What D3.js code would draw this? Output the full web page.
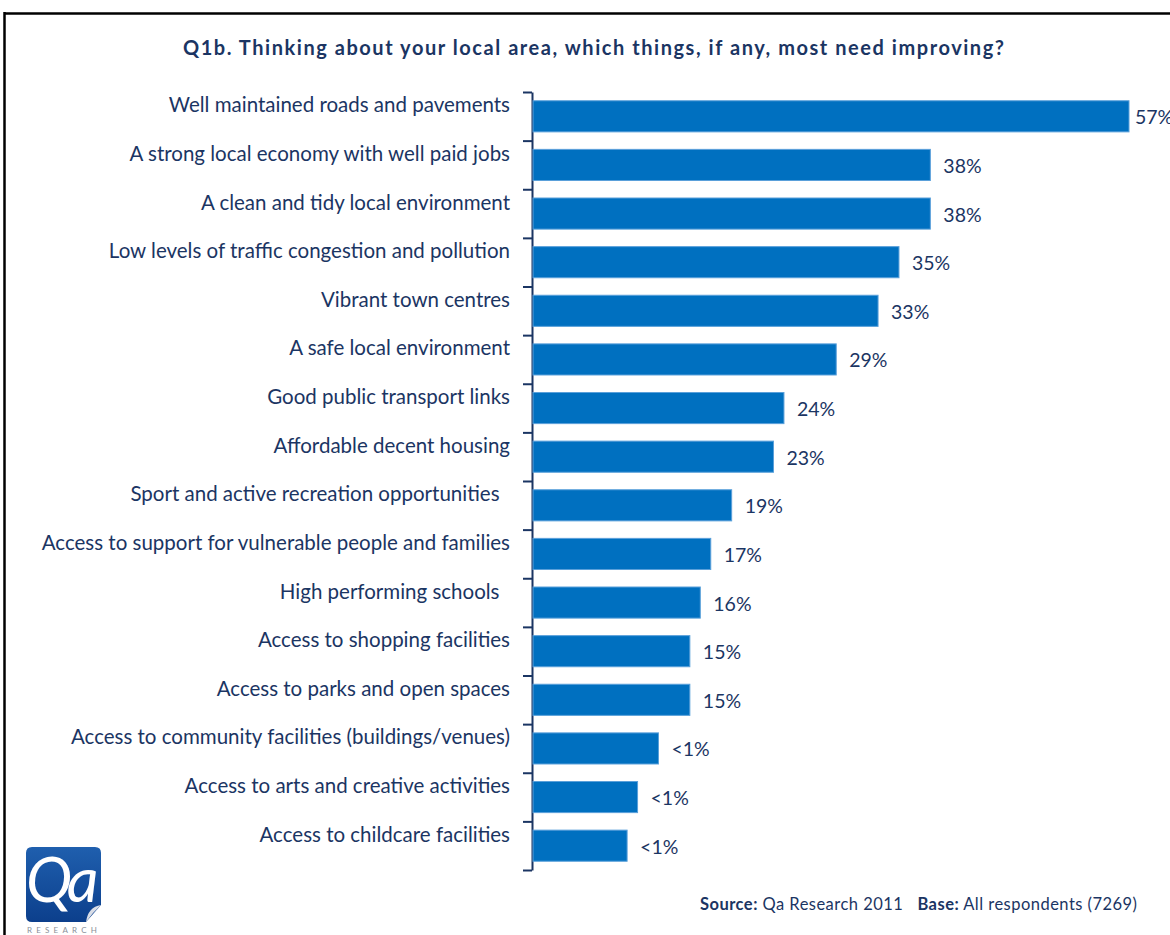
<!DOCTYPE html>
<html>
<head>
<meta charset="utf-8">
<script src="https://cdn.jsdelivr.net/npm/d3@7"></script>
<style>
  html, body { margin: 0; padding: 0; background: #fff; }
  svg { display: block; }
  text { font-family: Lato, "Open Sans", sans-serif; }
</style>
</head>
<body>
<svg id="chart" width="1170" height="935"></svg>
<script>
// Survey responses: which things most need improving in the local area
const categories = [
  "Well maintained roads and pavements",
  "A strong local economy with well paid jobs",
  "A clean and tidy local environment",
  "Low levels of traffic congestion and pollution",
  "Vibrant town centres",
  "A safe local environment",
  "Good public transport links",
  "Affordable decent housing",
  "Sport and active recreation opportunities  ",
  "Access to support for vulnerable people and families",
  "High performing schools  ",
  "Access to shopping facilities",
  "Access to parks and open spaces",
  "Access to community facilities (buildings/venues)",
  "Access to arts and creative activities",
  "Access to childcare facilities"
];
const values = [57, 38, 38, 35, 33, 29, 24, 23, 19, 17, 16, 15, 15, 12, 10, 9];
const valueLabels = ["57%", "38%", "38%", "35%", "33%", "29%", "24%", "23%", "19%", "17%", "16%", "15%", "15%", "<1%", "<1%", "<1%"];

const titleText = "Q1b. Thinking about your local area, which things, if any, most need improving?";
const sourceLabel = "Source:";
const sourceText = " Qa Research 2011   ";
const baseLabel = "Base:";
const baseText = " All respondents (7269)";

const navy = "#1b3563";
const barFill = "#0070c0";

const svg = d3.select("#chart");

// Frame around the figure
svg.append("line").attr("x1", 4).attr("x2", 1170).attr("y1", 13.5).attr("y2", 13.5)
  .attr("stroke", "#000").attr("stroke-width", 2.5);
svg.append("line").attr("x1", 4.5).attr("x2", 4.5).attr("y1", 12).attr("y2", 935)
  .attr("stroke", "#000").attr("stroke-width", 2.5);

// Title
svg.append("text")
  .attr("x", 593.5).attr("y", 55)
  .attr("text-anchor", "middle")
  .attr("fill", navy)
  .attr("font-weight", "bold")
  .attr("font-size", 20)
  .attr("textLength", 821)
  .attr("lengthAdjust", "spacing")
  .text(titleText);

// Scales
const x = d3.scaleLinear().domain([0, 57]).range([533, 1129]);
const y = d3.scaleBand().domain(categories).range([92, 870]).paddingInner(0.36).paddingOuter(0.18);
const tickIndex = d3.scaleLinear().domain([0, categories.length]).range([92, 870]);

// Category axis: vertical line with ticks at band boundaries
const axisG = svg.append("g").attr("transform", "translate(532,0)")
  .call(d3.axisLeft(tickIndex).tickValues(d3.range(categories.length + 1)).tickFormat("").tickSize(9).tickSizeOuter(0));
axisG.select(".domain").attr("stroke", navy).attr("stroke-width", 2);
axisG.selectAll(".tick line").attr("stroke", navy).attr("stroke-width", 2);

// Bars
svg.append("g").selectAll("rect")
  .data(categories)
  .join("rect")
  .attr("x", x(0))
  .attr("y", d => y(d))
  .attr("width", (d, i) => x(values[i]) - x(0))
  .attr("height", y.bandwidth())
  .attr("fill", barFill)
  .attr("stroke", "#5aa0da")
  .attr("stroke-width", 1);

// Category labels
svg.append("g").selectAll("text")
  .data(categories)
  .join("text")
  .attr("x", 510)
  .attr("y", d => y(d) + y.bandwidth() / 2 - 4)
  .attr("text-anchor", "end")
  .attr("fill", navy)
  .attr("font-size", 20.5)
  .style("white-space", "pre")
  .text(d => d);

// Value labels
svg.append("g").selectAll("text")
  .data(categories)
  .join("text")
  .attr("x", (d, i) => x(values[i]) + (i === 0 ? 6 : 13))
  .attr("y", d => y(d) + y.bandwidth() / 2 + 8)
  .attr("fill", navy)
  .attr("font-size", 19.5)
  .text((d, i) => valueLabels[i]);

// Source note
const src = svg.append("text")
  .attr("x", 1137).attr("y", 910)
  .attr("text-anchor", "end")
  .attr("fill", navy)
  .attr("font-size", 16.5)
  .attr("textLength", 437)
  .attr("lengthAdjust", "spacing")
  .style("white-space", "pre");
src.append("tspan").attr("font-weight", "bold").text(sourceLabel);
src.append("tspan").text(sourceText);
src.append("tspan").attr("font-weight", "bold").text(baseLabel);
src.append("tspan").text(baseText);

// Qa Research logo
const defs = svg.append("defs");
const grad = defs.append("linearGradient").attr("id", "logoGrad")
  .attr("x1", 0).attr("y1", 0).attr("x2", 0).attr("y2", 1);
grad.append("stop").attr("offset", "0%").attr("stop-color", "#1f5fae");
grad.append("stop").attr("offset", "100%").attr("stop-color", "#0c3f8c");

const logo = svg.append("g").attr("transform", "translate(26,847)");
logo.append("path")
  .attr("d", "M6,0 H69 Q75,0 75,6 V58 L60,75 H6 Q0,75 0,69 V6 Q0,0 6,0 Z")
  .attr("fill", "url(#logoGrad)");
logo.append("path")
  .attr("d", "M75,58 Q62,60 60,75 Q66,66 75,58 Z")
  .attr("fill", "#d9dde6");
logo.append("text")
  .attr("x", 0).attr("y", 55)
  .attr("fill", "#fff")
  .attr("font-family", "'Liberation Serif', 'DejaVu Serif', serif")
  .attr("font-style", "italic")
  .attr("font-size", 62)
  .attr("letter-spacing", -5)
  .text("Qa");
logo.append("text")
  .attr("x", 1).attr("y", 86)
  .attr("fill", "#8a8f99")
  .attr("font-size", 8)
  .attr("letter-spacing", 4.2)
  .text("RESEARCH");
</script>
</body>
</html>
